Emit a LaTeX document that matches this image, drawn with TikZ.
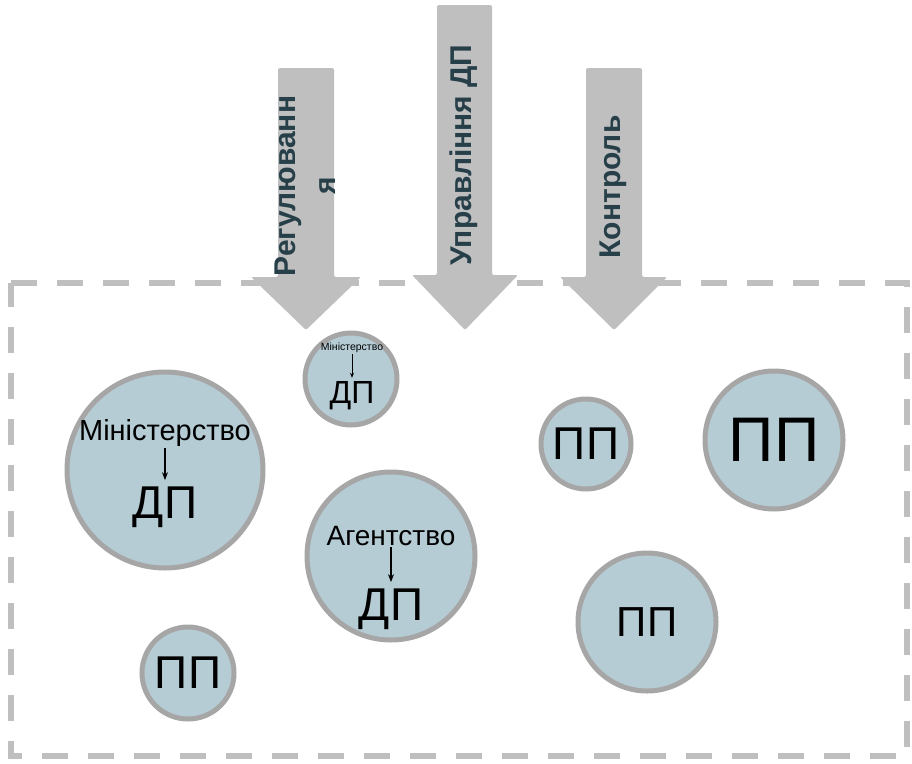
\documentclass[tikz,border=0pt]{standalone}
\usepackage{fontspec}
\setmainfont{Liberation Sans}
\usetikzlibrary{arrows.meta}
\definecolor{bandgray}{HTML}{BFBFBF}
\definecolor{ringgray}{HTML}{A6A6A6}
\definecolor{cellblue}{HTML}{B5CCD5}
\definecolor{slate}{HTML}{263F49}
\tikzset{
  unit/.style={circle,draw=ringgray,line width=5pt,fill=cellblue,inner sep=0pt,minimum size=#1},
  txt/.style={inner sep=0pt,anchor=base,font=\fontsize{#1}{#1}\selectfont},
  flow/.style={fill=bandgray,rounded corners=2pt},
  flowtext/.style={rotate=90,text=slate,align=center,font=\fontsize{30}{40}\selectfont\bfseries},
  sub/.style={-{Stealth[length=8pt,width=6pt]},line width=1.5pt,shorten <=2pt,shorten >=6pt},
}
\begin{document}
\begin{tikzpicture}[x=1pt,y=-1pt]
  \useasboundingbox (0,0) rectangle (912,763);
  \draw[bandgray,line width=6pt,dash pattern=on 26pt off 20pt]
    (11,283) -- (907,283) -- (907,756) -- (11,756) -- cycle;
  \fill[flow] (278,68) -- (334,68) -- (334,277) -- (361,277) -- (306,330) -- (251,277) -- (278,277) -- cycle;
  \fill[flow] (437,5) -- (492,5) -- (492,275) -- (518,275) -- (465,330) -- (412,275) -- (437,275) -- cycle;
  \fill[flow] (586,68) -- (642,68) -- (642,277) -- (667,277) -- (614,330) -- (560,277) -- (586,277) -- cycle;
  \node[flowtext] (reg) at (305,186) {Регулюванн\\я};
  \node[flowtext] (upr) at (464,155) {Управління ДП};
  \node[flowtext] (kon) at (613,187) {Контроль};
  \node[unit=196pt] (c1) at (165,470) {};
  \node[txt=29] (m1) at (165,440) {Міністерство};
  \node[txt=46] (d1) at (165,518) {ДП};
  \draw[sub] (m1.south) -- (d1.north);
  \node[unit=92pt] (c2) at (351,379) {};
  \node[txt=10.5] (m2) at (352,350) {Міністерство};
  \node[txt=32] (d2) at (352,403) {ДП};
  \draw[sub,shorten >=3pt,-{Stealth[length=5pt,width=4pt]},line width=1pt] (m2.south) -- (d2.north);
  \node[unit=168pt] (c3) at (391,556) {};
  \node[txt=28] (a3) at (391,545) {Агентство};
  \node[txt=46] (d3) at (391,620) {ДП};
  \draw[sub] (a3.south) -- (d3.north);
  \node[unit=90pt,font=\fontsize{46}{46}\selectfont] (p1) at (586,444) {ПП};
  \node[unit=138pt,font=\fontsize{63}{63}\selectfont] (p2) at (774,440) {ПП};
  \node[unit=138pt,font=\fontsize{42}{42}\selectfont] (p3) at (647,622) {ПП};
  \node[unit=92pt,font=\fontsize{46}{46}\selectfont] (p4) at (188,673) {ПП};
\end{tikzpicture}
\end{document}
